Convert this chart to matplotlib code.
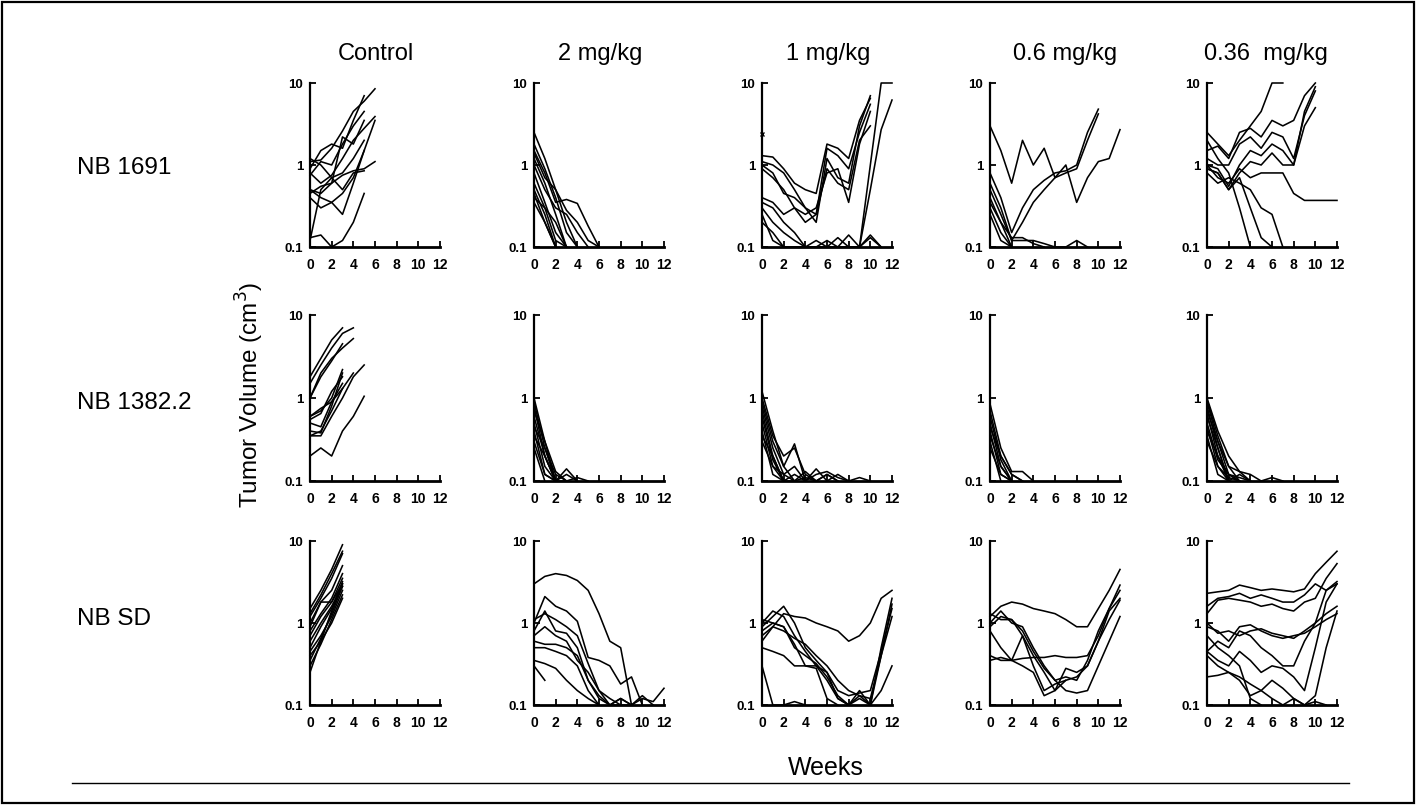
import matplotlib
matplotlib.use("Agg")
import matplotlib.pyplot as plt
from matplotlib.lines import Line2D
from matplotlib.patches import Rectangle

# ---------------- data (tumor volume, cm3, one value per week from week 0) -------------
col_titles = ["Control", "2 mg/kg", "1 mg/kg", "0.6 mg/kg", "0.36  mg/kg"]
row_titles = ["NB 1691", "NB 1382.2", "NB SD"]
week_ticks = [0, 2, 4, 6, 8, 10, 12]
vol_ticks = [0.1, 1, 10]
vol_tick_labels = ["0.1", "1", "10"]

nb1691_control = [
    [1.1, 1.15, 1.6, 2.6, 4.5, 6.0, 8.5],
    [0.9, 1.5, 1.8, 1.6, 3.5, 7.0],
    [0.75, 1.1, 1.0, 1.8, 3.0, 4.5],
    [0.8, 0.6, 0.75, 1.2, 2.0, 2.8, 3.9],
    [0.5, 0.45, 0.6, 0.75, 0.85, 0.9, 1.1],
    [0.45, 0.55, 0.6, 2.2, 1.8, 3.5],
    [0.4, 0.3, 0.35, 0.45, 0.7, 1.5],
    [0.5, 0.4, 0.35, 0.25, 0.6, 1.5, 3.5],
    [0.12, 0.5, 0.7, 0.8, 1.2, 2.0],
    [0.13, 0.14, 0.1, 0.12, 0.2, 0.45],
    [1.2, 1.0, 0.7, 0.5, 0.8, 0.85],
]
nb1691_2mg = [
    [2.5, 1.2, 0.5, 0.2, 0.1],
    [1.8, 0.9, 0.4, 0.15, 0.1],
    [1.5, 0.8, 0.35, 0.38, 0.34, 0.18, 0.1],
    [1.2, 0.6, 0.25, 0.1],
    [1.0, 0.5, 0.3, 0.25, 0.15, 0.1],
    [0.8, 0.35, 0.15, 0.1],
    [0.6, 0.3, 0.12, 0.1],
    [0.5, 0.25, 0.1],
    [0.45, 0.2, 0.1],
    [0.4, 0.3, 0.2, 0.1],
    [0.35, 0.2, 0.1],
    [1.4, 0.7, 0.5, 0.28, 0.2, 0.12, 0.1],
]
nb1691_1mg = [
    [1.3, 1.25, 0.9, 0.6, 0.5, 0.45, 1.8, 1.6, 1.2, 3.5, 6.5],
    [1.1, 1.0, 0.8, 0.5, 0.3, 0.25, 1.6, 1.3, 0.9, 2.5, 5.5],
    [1.0, 0.8, 0.45, 0.4, 0.3, 0.2, 1.2, 0.7, 0.6, 3.0, 7.0],
    [0.9, 0.7, 0.5, 0.3, 0.25, 0.3, 0.8, 0.9, 0.35, 1.8, 4.5],
    [0.4, 0.35, 0.25, 0.3, 0.2, 0.25, 0.9, 0.6, 0.5, 2.0, 3.0],
    [0.35, 0.3, 0.2, 0.15, 0.1, 0.1, 0.12, 0.1, 0.14, 0.1, 0.14, 0.1],
    [0.3, 0.2, 0.15, 0.12, 0.1, 0.12, 0.1, 0.13, 0.1, 0.1, 0.13, 0.1],
    [0.2, 0.15, 0.1, 0.1, 0.1, 0.1, 0.1, 0.1, 0.1, 0.1, 1.0, 10, 10],
    [0.25, 0.12, 0.1, 0.1, 0.1, 0.1, 0.1, 0.1, 0.1, 0.1, 0.5, 2.7, 6.2],
]
nb1691_06mg = [
    [3.0, 1.5, 0.6, 2.0, 1.0, 1.6, 0.7, 1.0, 0.35, 0.7, 1.1, 1.2, 2.7],
    [0.8, 0.4, 0.15, 0.3, 0.5, 0.65, 0.8, 0.85, 1.0, 2.5, 4.8],
    [0.6, 0.3, 0.12, 0.2, 0.35, 0.5, 0.7, 0.8, 0.9, 2.0, 4.2],
    [0.5, 0.25, 0.12, 0.12, 0.12, 0.11, 0.1, 0.1, 0.12, 0.1],
    [0.4, 0.2, 0.13, 0.13, 0.11, 0.1],
    [0.35, 0.2, 0.1],
    [0.3, 0.15, 0.1],
    [0.25, 0.12, 0.1],
]
nb1691_036mg = [
    [2.5, 1.8, 1.3, 2.0, 3.0, 4.5, 10, 10],
    [1.5, 1.7, 1.2, 2.5, 2.8, 2.2, 3.5, 3.0, 3.5, 7.0, 10],
    [1.2, 1.0, 1.0, 1.8, 2.2, 1.6, 2.5, 2.2, 1.2, 4.0, 8.0],
    [1.0, 0.9, 0.55, 1.0, 1.5, 1.3, 1.8, 1.5, 1.0, 3.0, 5.0],
    [0.9, 0.8, 0.5, 0.8, 1.1, 1.0, 1.4, 1.0, 1.0, 4.5, 9.0],
    [1.0, 0.7, 0.6, 0.9, 0.7, 0.8, 0.8, 0.8, 0.45, 0.37, 0.37, 0.37, 0.37],
    [0.9, 0.8, 0.5, 0.7, 0.3, 0.13, 0.1],
    [0.8, 0.6, 0.7, 0.6, 0.5, 0.3, 0.25, 0.1],
    [2.0, 1.2, 0.8, 0.3, 0.1],
]

nb1382_control = [
    [1.8, 3.0, 5.0, 7.0],
    [1.5, 2.5, 4.0, 6.0, 7.0],
    [1.0, 2.0, 3.0, 4.0, 5.2],
    [1.0, 1.8, 2.8, 4.5],
    [0.6, 0.7, 1.0, 2.2],
    [0.55, 0.65, 1.2, 1.8],
    [0.5, 0.45, 0.9, 1.5],
    [0.4, 0.38, 0.8, 2.0],
    [0.35, 0.4, 0.7, 1.3],
    [0.35, 0.35, 0.6, 1.0, 1.8, 2.5],
    [0.6, 0.75, 0.9, 1.3, 2.0],
    [0.2, 0.25, 0.2, 0.4, 0.6, 1.05],
]
nb1382_2mg = [
    [1.0, 0.3, 0.1],
    [0.9, 0.25, 0.12, 0.1],
    [0.8, 0.2, 0.1],
    [0.7, 0.3, 0.13, 0.1],
    [0.6, 0.2, 0.1],
    [0.5, 0.15, 0.1],
    [0.45, 0.25, 0.1, 0.14, 0.1],
    [0.4, 0.12, 0.1, 0.12, 0.1],
    [0.35, 0.2, 0.1, 0.1, 0.11, 0.1],
    [0.3, 0.12, 0.1],
    [0.25, 0.1],
]
nb1382_1mg = [
    [1.2, 0.4, 0.15, 0.28, 0.1],
    [1.0, 0.35, 0.2, 0.25, 0.12, 0.1],
    [0.9, 0.3, 0.15, 0.1, 0.13, 0.1, 0.12, 0.1],
    [0.8, 0.25, 0.12, 0.15, 0.1, 0.12, 0.13, 0.11, 0.1],
    [0.7, 0.2, 0.1, 0.12, 0.1, 0.14, 0.1, 0.12, 0.1, 0.11, 0.1],
    [0.6, 0.18, 0.1, 0.1, 0.11, 0.1, 0.12, 0.1],
    [0.5, 0.15, 0.12, 0.1],
    [0.4, 0.12, 0.1],
    [0.35, 0.2, 0.1],
    [0.3, 0.15, 0.1],
]
nb1382_06mg = [
    [0.85, 0.25, 0.13, 0.13, 0.1],
    [0.7, 0.2, 0.12, 0.1],
    [0.6, 0.18, 0.1],
    [0.5, 0.15, 0.1],
    [0.45, 0.2, 0.12, 0.1],
    [0.4, 0.12, 0.1],
    [0.35, 0.15, 0.1],
    [0.3, 0.1],
    [0.25, 0.12, 0.1],
]
nb1382_036mg = [
    [1.0, 0.4, 0.2, 0.13, 0.1],
    [0.95, 0.35, 0.15, 0.13, 0.12, 0.1, 0.11, 0.1],
    [0.9, 0.3, 0.12, 0.1],
    [0.8, 0.25, 0.1, 0.12, 0.1],
    [0.7, 0.3, 0.15, 0.1],
    [0.65, 0.2, 0.12, 0.1],
    [0.6, 0.25, 0.1],
    [0.5, 0.18, 0.12, 0.11, 0.1],
    [0.45, 0.15, 0.1],
    [0.4, 0.2, 0.1],
    [0.35, 0.12, 0.1],
    [0.3, 0.15, 0.11, 0.1],
]

nbsd_control = [
    [1.5, 2.5, 4.5, 9.0],
    [1.3, 2.2, 4.0, 7.5],
    [1.2, 2.0, 3.5, 7.0],
    [1.0, 1.8, 2.5, 5.0],
    [0.9, 1.8, 1.8, 3.5],
    [0.8, 1.3, 2.0, 4.0],
    [0.7, 1.2, 1.8, 3.0],
    [0.6, 1.0, 1.6, 2.8],
    [0.5, 0.9, 1.5, 3.2],
    [0.45, 0.7, 1.2, 2.5],
    [0.4, 0.6, 1.0, 2.0],
    [0.35, 0.65, 1.3, 2.8],
    [0.3, 0.55, 1.1, 2.2],
    [0.25, 0.6, 1.4, 3.0],
]
nbsd_2mg = [
    [3.0, 3.7, 4.0, 3.8, 3.3, 2.5, 1.3, 0.6, 0.5, 0.1],
    [1.0, 2.1, 1.6, 1.4, 1.05, 0.38, 0.35, 0.3, 0.18, 0.22, 0.1],
    [1.1, 1.3, 1.1, 0.9, 0.7, 0.32, 0.15, 0.12, 0.1],
    [0.8, 1.4, 0.8, 0.75, 0.5, 0.2, 0.13, 0.1, 0.12, 0.1],
    [0.6, 0.55, 0.55, 0.5, 0.4, 0.2, 0.12, 0.1, 0.1, 0.1, 0.12, 0.11, 0.16],
    [0.5, 0.5, 0.45, 0.4, 0.3, 0.15, 0.1],
    [0.35, 0.32, 0.28, 0.2, 0.15, 0.12, 0.1],
    [0.3, 0.2],
    [0.7, 0.9, 0.7, 0.6, 0.35, 0.25, 0.15, 0.1, 0.12, 0.1, 0.13, 0.1],
]
nbsd_1mg = [
    [0.7, 0.9, 1.3, 1.2, 1.15, 1.0, 0.9, 0.8, 0.6, 0.7, 1.0, 2.0, 2.5],
    [1.0, 1.4, 1.2, 0.7, 0.45, 0.3, 0.2, 0.12, 0.1, 0.15, 0.1, 0.5, 2.0],
    [0.9, 1.2, 1.6, 1.0, 0.5, 0.35, 0.25, 0.15, 0.13, 0.14, 0.15, 0.45, 1.5],
    [0.8, 1.0, 0.9, 0.5, 0.4, 0.32, 0.22, 0.13, 0.1, 0.13, 0.12, 0.4, 1.2],
    [0.6, 0.9, 0.8, 0.65, 0.55, 0.4, 0.3, 0.2, 0.15, 0.13, 0.1, 0.4, 1.7],
    [0.5, 0.45, 0.4, 0.3, 0.3, 0.3, 0.25, 0.12, 0.1, 0.12, 0.1, 0.15, 0.3],
    [0.3, 0.1, 0.1, 0.11, 0.1],
    [1.1, 1.0, 0.9, 0.55, 0.3, 0.28, 0.12, 0.1],
]
nbsd_06mg = [
    [1.2, 1.6, 1.8, 1.7, 1.5, 1.4, 1.3, 1.1, 0.9, 0.9, 1.5, 2.5, 4.5],
    [0.4, 0.35, 0.35, 0.37, 0.38, 0.38, 0.4, 0.38, 0.38, 0.4, 0.7, 1.5, 2.9],
    [1.0, 1.4, 1.0, 0.9, 0.5, 0.3, 0.2, 0.15, 0.14, 0.15, 0.3, 0.6, 1.2],
    [1.3, 1.1, 1.1, 0.7, 0.4, 0.25, 0.15, 0.28, 0.25, 0.3, 0.6, 1.1, 1.9],
    [0.9, 1.2, 1.1, 0.8, 0.45, 0.28, 0.2, 0.22, 0.2, 0.35, 0.8, 1.5, 2.5],
    [0.8, 0.5, 0.35, 0.7, 0.3, 0.15, 0.18, 0.2, 0.22, 0.3, 0.6, 1.4, 2.0],
    [0.35, 0.38, 0.35, 0.3, 0.25, 0.13, 0.15, 0.2],
]
nbsd_036mg = [
    [2.3, 2.4, 2.5, 2.9, 2.7, 2.5, 2.6, 2.5, 2.4, 2.6, 4.0, 5.5, 7.5],
    [1.6, 2.0, 2.1, 2.3, 2.0, 2.2, 2.0, 1.8, 1.8, 2.2, 3.0, 2.5, 3.0],
    [1.3, 1.9, 2.0, 1.9, 1.8, 1.6, 1.7, 1.5, 1.4, 1.8, 2.0, 3.5, 5.3],
    [1.0, 0.75, 0.8, 0.7, 0.8, 0.85, 0.75, 0.7, 0.65, 0.8, 1.0, 1.3, 1.6],
    [0.9, 0.8, 0.6, 0.9, 0.95, 0.8, 0.7, 0.65, 0.7, 0.75, 0.9, 1.1, 1.3],
    [0.45, 0.6, 0.5, 0.8, 0.7, 0.5, 0.4, 0.3, 0.3, 0.6, 1.0, 2.5, 3.2],
    [0.45, 0.35, 0.3, 0.45, 0.35, 0.25, 0.3, 0.28, 0.22, 0.15, 0.5, 1.8, 3.0],
    [0.22, 0.23, 0.25, 0.22, 0.18, 0.15, 0.2, 0.16, 0.12, 0.1, 0.13, 0.5, 1.4],
    [0.7, 0.5, 0.4, 0.3, 0.12, 0.1],
    [0.4, 0.3, 0.25, 0.2, 0.13, 0.15, 0.12, 0.1, 0.12, 0.1, 0.11, 0.1],
]

# single marked point (x) in NB 1691 / 1 mg/kg panel
mark_week = [0]
mark_vol = [2.4]

panels = [
    [nb1691_control, nb1691_2mg, nb1691_1mg, nb1691_06mg, nb1691_036mg],
    [nb1382_control, nb1382_2mg, nb1382_1mg, nb1382_06mg, nb1382_036mg],
    [nbsd_control, nbsd_2mg, nbsd_1mg, nbsd_06mg, nbsd_036mg],
]

# ---------------- layout ----------------
W, H = 1416, 805
plt.rcParams["font.family"] = ["Liberation Sans", "DejaVu Sans"]
fig = plt.figure(figsize=(W / 100, H / 100), dpi=100)
fig.patch.set_facecolor("white")

col_left = [310, 534, 762, 990, 1207]
panel_w = 130
row_top = [83, 315, 541]
row_bot = [247, 481, 705]

for r, row in enumerate(panels):
    for c, series in enumerate(row):
        L = col_left[c]
        T, B = row_top[r], row_bot[r]
        ax = fig.add_axes([L / W, 1 - B / H, panel_w / W, (B - T) / H])
        for s in series:
            ax.plot(list(range(len(s))), s, color="black", lw=1.15, clip_on=False,
                    solid_joinstyle="round")
        if r == 0 and c == 2:
            ax.plot(mark_week, mark_vol, marker="x", ms=3.5, mew=1, color="black",
                    ls="none", clip_on=False)
        ax.set_yscale("log")
        ax.set_ylim(0.1, 10)
        ax.set_xlim(0, 12)
        ax.set_xticks(week_ticks)
        ax.set_xticklabels([str(w) for w in week_ticks], fontweight="bold")
        ax.set_yticks(vol_ticks)
        ax.set_yticklabels(vol_tick_labels, fontweight="bold")
        ax.minorticks_off()
        for side in ("top", "right"):
            ax.spines[side].set_visible(False)
        ax.spines["left"].set_linewidth(1.6)
        ax.spines["bottom"].set_linewidth(2.0)
        ax.tick_params(axis="x", direction="in", length=4, width=1.3,
                       labelsize=10, pad=8)
        ax.tick_params(axis="y", direction="in", length=4, width=1.3,
                       labelsize=9.5, pad=5)
        ax.set_facecolor("none")

# column titles
title_x = [376, 600, 828, 1065, 1266]
for c, t in enumerate(col_titles):
    fig.text(title_x[c] / W, 1 - 54 / H, t, ha="center", va="center", fontsize=17)

# row titles
row_y = [168, 403, 619]
for r, t in enumerate(row_titles):
    fig.text(77 / W, 1 - row_y[r] / H, t, ha="left", va="center", fontsize=17.5)

fig.text(250 / W, 1 - 395 / H, "Tumor Volume (cm$^3$)", rotation=90,
         ha="center", va="center", fontsize=17.5)
fig.text(826 / W, 1 - 768 / H, "Weeks", ha="center", va="center", fontsize=18)

# separator line and border
fig.add_artist(Line2D([72 / W, 1349 / W], [1 - 783 / H, 1 - 783 / H],
                      color="black", lw=1.0, transform=fig.transFigure))
fig.add_artist(Rectangle((2 / W, 2 / H), (W - 4) / W, (H - 4) / H, fill=False,
                         edgecolor="black", lw=1.6, transform=fig.transFigure))

fig.savefig("out.png", dpi=100, facecolor="white")
